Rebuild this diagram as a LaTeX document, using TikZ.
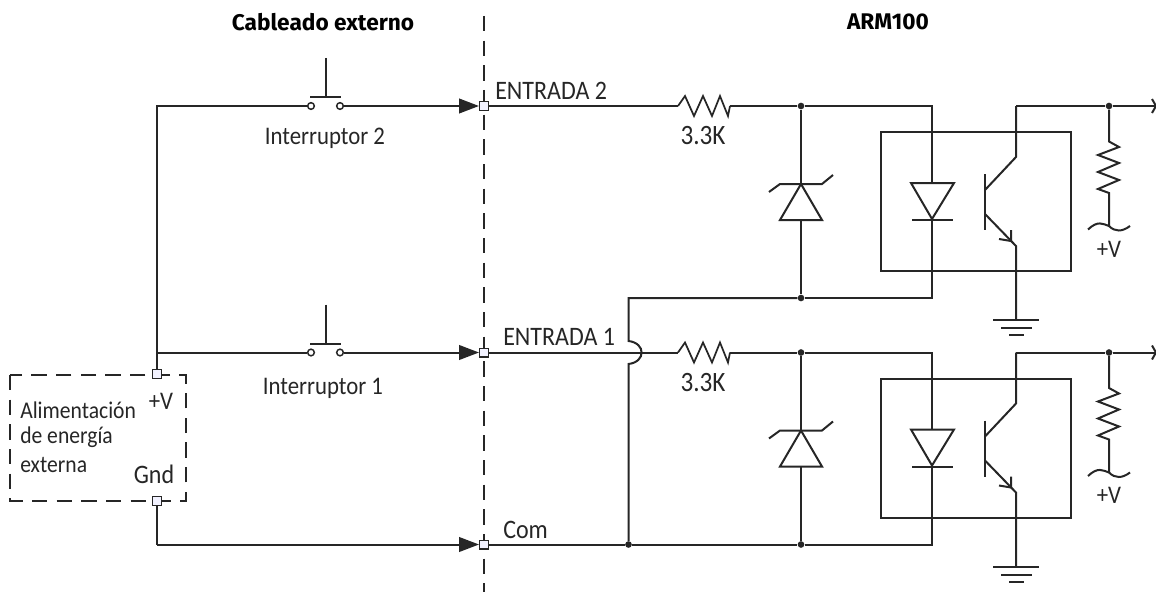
\documentclass[tikz,border=0pt]{standalone}
\usepackage{fontspec}
\setmainfont[FakeStretch=0.9]{Carlito}
\newfontfamily\headfont{Fira Sans}
\usetikzlibrary{arrows.meta}
\tikzset{
  wire/.style={line width=1.5pt,draw=black!85,line join=miter},
  thin wire/.style={line width=1.3pt,draw=black!85},
  term/.style={draw=black!85,line width=1pt,fill=blue!5,minimum size=6.5pt,inner sep=0pt,shape=rectangle},
  dot/.style={circle,fill=black!85,minimum size=5pt,inner sep=0pt},
  contact/.style={circle,draw=black!85,line width=1.1pt,fill=white,minimum size=5pt,inner sep=0pt},
  dashline/.style={line width=1.3pt,draw=black!85,dash pattern=on 11.5pt off 7pt},
  label/.style={inner sep=0pt,text=black!85,font=\fontsize{19}{21}\selectfont},
  small label/.style={label,font=\fontsize{18}{20}\selectfont},
  big label/.style={label,font=\fontsize{20}{22}\selectfont},
  value label/.style={label,font=\fontsize{21}{23}\selectfont},
  head/.style={inner sep=0pt,text=black,font=\headfont\bfseries\fontsize{17}{20}\selectfont},
  flow/.style={wire,-{Triangle[length=15pt,width=11pt]}},
}
\newcommand{\pushswitch}[2]{%
  \begin{scope}[shift={#2},name prefix=#1]
    \node[contact] (cl) at (311,0) {};
    \node[contact] (cr) at (340,0) {};
    \coordinate (bar) at (325.5,-9);
    \coordinate (top) at (325.5,-48);
    \coordinate (barl) at (310,-9);
    \coordinate (barr) at (341,-9);
    \draw[wire] (top) -- (bar);
    \draw[wire] (barl) -- (barr);
  \end{scope}}
\newcommand{\stage}[2]{%
  \begin{scope}[shift={#2},name prefix=#1]
    % series resistor
    \coordinate (rin) at (678,106);
    \coordinate (rout) at (730,106);
    \draw[thin wire] (rin) -- (685,96) -- (694,116) -- (703,96) -- (712,116) -- (720,96) -- (728,116) -- (rout);
    % zener
    \node[dot] (jt) at (801,106) {};
    \node[dot] (jb) at (801,298) {};
    \coordinate (ztip) at (801,184);
    \coordinate (zbase) at (801,220);
    \draw[wire] (jt) -- (ztip);
    \draw[wire] (zbase) -- (jb);
    \draw[wire] (ztip) -- (822,220) -- (780,220) -- cycle;
    \draw[wire] (769,192) -- (780,184) -- (822,184) -- (833,175);
    % opto box
    \draw[wire] (881,132) rectangle (1071,271);
    \coordinate (a) at (932,106);
    \coordinate (k) at (932,298);
    \draw[wire] (rout) -- (jt) -- (a) -- (932,183);
    \draw[wire] (932,220) -- (k) -- (jb);
    \draw[wire] (911,183) -- (954,183) -- (932,219) -- cycle;
    \draw[wire] (912,220) -- (953,220);
    % transistor
    \draw[wire] (985,174) -- (985,230);
    \draw[wire] (1016,106) -- (1016,157) -- (985,190);
    \draw[wire] (985,214) -- (1016,246) -- (1016,320);
    \draw[wire] (1011,230) -- (1011,241) -- (999,239);
    % ground
    \coordinate (g) at (1016,320);
    \draw[wire] (993,320) -- (1039,320);
    \draw[wire] (1001,328) -- (1032,328);
    \draw[wire] (1009,335) -- (1024,335);
    % output
    \node[dot] (jo) at (1109,106) {};
    \coordinate (out) at (1155,106);
    \draw[wire] (1016,106) -- (jo) -- (out);
    \draw[wire] (1152,99) -- (1156,106) -- (1152,113);
    \coordinate (pu) at (1109,226);
    \draw[wire] (jo) -- (1109,141.5) -- (1119,147) -- (1098,155) -- (1119,163) -- (1098,172) -- (1119,180) -- (1098,189) -- (1109,193) -- (pu);
    \draw[wire] (1088,229.5) .. controls (1098,220) and (1103,224) .. (pu) .. controls (1115,232) and (1122,232) .. (1130,226);
    \node[label] (vl) at (1109,249) {+V};
    \node[value label] (rl) at (703,136) {3.3K};
  \end{scope}}
\begin{document}
\begin{tikzpicture}[x=0.75pt,y=-0.75pt]
  \useasboundingbox (0,0) rectangle (1156,592);
  \node[head] (h1) at (323,22) {Cableado externo};
  \node[head] (h2) at (888,22) {ARM100};
  % divider
  \coordinate (dt) at (484,16);
  \coordinate (db) at (484,592);
  \draw[dashline] (dt) -- (db);
  % supply box
  \draw[dashline] (10,375) rectangle (186,501);
  \node[small label,anchor=west] (p1) at (20,410) {Alimentación};
  \node[small label,anchor=west] (p2) at (20,437) {de energía};
  \node[small label,anchor=west] (p3) at (20,465) {externa};
  \node[label] (pv) at (161,401) {+V};
  \node[big label] (pg) at (154,474) {Gnd};
  \node[term] (sv) at (157,374) {};
  \node[term] (sg) at (157,501) {};
  % terminals
  \node[term] (e2) at (484,106) {};
  \node[term] (e1) at (484,352.5) {};
  \node[term] (ec) at (484,544.5) {};
  % switches
  \pushswitch{s2-}{(0,106)}
  \pushswitch{s1-}{(0,352.5)}
  \coordinate (c2) at (157,106);
  \coordinate (c1) at (157,352.5);
  \coordinate (c3) at (157,544.5);
  \draw[wire] (s2-cl) -- (c2) -- (c1) -- (sv);
  \draw[wire] (c1) -- (s1-cl);
  \draw[wire] (sg) -- (c3);
  \draw[flow] (s2-cr) -- (479,106);
  \draw[flow] (s1-cr) -- (479,352.5);
  \draw[flow] (c3) -- (479,544.5);
  \node[label] (i2) at (325,138) {Interruptor 2};
  \node[label] (i1) at (323,388) {Interruptor 1};
  \node[big label,anchor=west] (l2) at (495,91) {ENTRADA 2};
  \node[big label,anchor=west] (l1) at (503,337) {ENTRADA 1};
  \node[big label,anchor=west] (lc) at (503,530) {Com};
  % stages
  \stage{up-}{(0,0)}
  \stage{lo-}{(0,246.5)}
  % inputs
  \draw[wire] (e2) -- (up-rin);
  \draw[wire] (e1) -- (lo-rin);
  % common bus
  \node[dot] (jc) at (628.5,544.5) {};
  \coordinate (bt) at (628.5,298);
  \coordinate (ha) at (628.5,341);
  \coordinate (hb) at (628.5,364);
  \draw[wire] (up-jb) -- (bt) -- (ha) .. controls (646,343) and (646,362) .. (hb) -- (jc);
  \draw[wire] (ec) -- (jc) -- (lo-jb);
\end{tikzpicture}
\end{document}
